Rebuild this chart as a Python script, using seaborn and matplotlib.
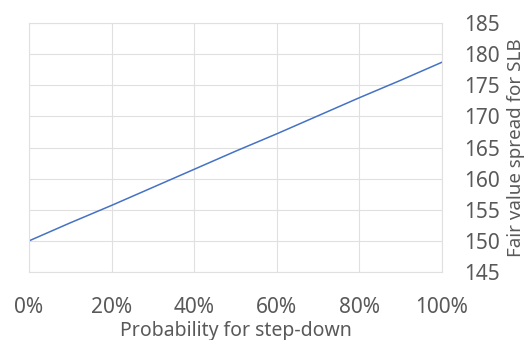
import numpy as np
import pandas as pd
import matplotlib
matplotlib.use('Agg')
import matplotlib.pyplot as plt
import seaborn as sns
from matplotlib.ticker import PercentFormatter, MultipleLocator

# values
probability = [0.0, 0.1, 0.2, 0.3, 0.4, 0.5, 0.6, 0.7, 0.8, 0.9, 1.0]
spread = [150.0, 152.9, 155.7, 158.6, 161.5, 164.4, 167.2, 170.1, 173.0, 175.8, 178.7]

df = pd.DataFrame({'probability': probability, 'spread': spread})

sns.set_style('white')
plt.rcParams['font.family'] = ['Noto Sans', 'DejaVu Sans']
text_col = '#595959'
grid_col = '#e0e0e0'

fig, ax = plt.subplots(figsize=(5.27, 3.40), dpi=100)
fig.subplots_adjust(left=29/527, right=442/527, top=1-23/340, bottom=1-272/340)

sns.lineplot(data=df, x='probability', y='spread', ax=ax, color='#4472C4', linewidth=1.1)

ax.set_xlim(0, 1)
ax.set_ylim(145, 185)
ax.xaxis.set_major_locator(MultipleLocator(0.2))
ax.xaxis.set_major_formatter(PercentFormatter(1.0, decimals=0))
ax.yaxis.set_major_locator(MultipleLocator(5))

ax.yaxis.tick_right()
ax.yaxis.set_label_position('right')
ax.grid(True, color=grid_col, linewidth=0.8)
ax.set_axisbelow(True)
for s in ax.spines.values():
    s.set_color(grid_col)
    s.set_linewidth(0.8)

ax.tick_params(axis='both', length=0, labelsize=15, labelcolor=text_col)
ax.tick_params(axis='x', pad=18)
ax.tick_params(axis='y', pad=16)

ax.set_xlabel('Probability for step-down', fontsize=14, color=text_col, labelpad=2)
ax.set_ylabel('Fair value spread for SLB', fontsize=13.5, color=text_col, labelpad=5)

fig.savefig('out.png', dpi=100)
